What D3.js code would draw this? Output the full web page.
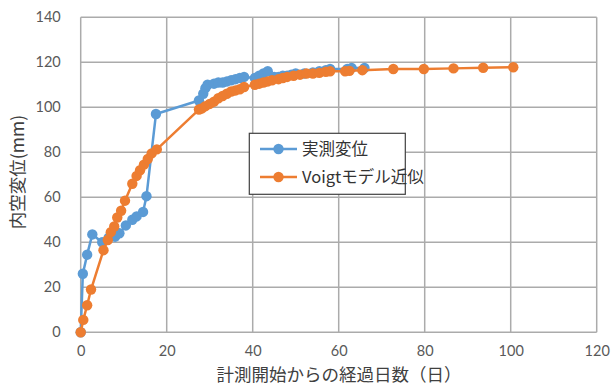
<!DOCTYPE html>
<html><head><meta charset="utf-8">
<script src="https://cdn.jsdelivr.net/npm/d3@7"></script>
<style>body{margin:0;background:#fff}svg{display:block}</style>
</head><body>
<svg id="c" width="611" height="387"></svg>
<script>
const measuredDays = [0,0.5,1.5,2.7,5,6.5,8,9,10.5,12,13,14.5,15.3,17.5,27.5,28.5,29,29.5,31,32,33,34,35,36,37,38,40.5,41.5,42.5,43.5,45,46,47,48,49,50,52,54,55.5,57,58,62,63,66];
const measuredVals = [0,26,34.5,43.5,40,42,42.5,44,47.5,50,51.5,53.5,60.5,97,103,106,108.5,110,110.5,111,111,111.5,112,112.5,113,113.5,113,114,115,116,113.5,113.5,114,114,114.5,115,115,115.5,116,116.5,117,117,117.5,117.5];
const modelDays = [0,0.6,1.5,2.4,5.3,6.3,7,7.8,8.5,9.4,10.3,12,13,13.8,14.7,15.6,16.5,17.7,27.5,28.2,29,30,31,32,33,34,35,36,37,38,40.5,41.5,42.5,43.5,44.5,46,47,48,49.5,51,52.5,54,55.5,57,58,61.5,62.5,65.5,72.7,79.8,86.7,93.6,100.6];
const modelVals = [0,5.5,12,19,36.5,41,44.5,47,51,54,58.5,66,69.5,72,74.5,77,79.5,81.3,99,99.5,100.5,101.5,102.5,104,105,106,107,107.5,108,109,110,110.5,111,111.5,112,112.5,113,113.5,114,114.5,115,115,115.3,115.8,116,116,116.2,116.5,117,117,117.3,117.6,117.8];
const xTicks = [0,20,40,60,80,100,120];
const yTicks = [0,20,40,60,80,100,120,140];
const seriesNames = ["実測変位","Voigtモデル近似"];
const colors = ["#5B9BD5","#ED7D31"];

const svg = d3.select("#c");
const x = d3.scaleLinear().domain([0,120]).range([80.7,596.7]);
const y = d3.scaleLinear().domain([0,140]).range([332.3,17.3]);
const g = svg.append("g");
const tickFont = "Lato, 'Liberation Sans', sans-serif";

// grid
g.append("g").selectAll("line").data(yTicks).join("line")
  .attr("x1",x(0)).attr("x2",x(120)).attr("y1",d=>y(d)).attr("y2",d=>y(d))
  .attr("stroke","#ababab").attr("stroke-width",1.5);
g.append("g").selectAll("line").data(xTicks).join("line")
  .attr("y1",y(0)).attr("y2",y(140)).attr("x1",d=>x(d)).attr("x2",d=>x(d))
  .attr("stroke","#ababab").attr("stroke-width",1.5);

// axes via d3 axis
const xAxis = g.append("g").attr("transform",`translate(0,${y(0)})`)
  .call(d3.axisBottom(x).tickValues(xTicks).tickSize(0).tickPadding(13));
const yAxis = g.append("g").attr("transform",`translate(${x(0)},0)`)
  .call(d3.axisLeft(y).tickValues(yTicks).tickSize(0).tickPadding(20));
[xAxis,yAxis].forEach(a=>{
  a.select(".domain").remove();
  a.selectAll("text").attr("font-family",tickFont).attr("font-size",14.5).attr("fill","#595959");
});

// series
const data = [
  measuredDays.map((d,i)=>[d,measuredVals[i]]),
  modelDays.map((d,i)=>[d,modelVals[i]])
];
const line = d3.line().x(d=>x(d[0])).y(d=>y(d[1]));
data.forEach((s,i)=>{
  const sg = g.append("g");
  sg.append("path").datum(s).attr("d",line).attr("fill","none")
    .attr("stroke",colors[i]).attr("stroke-width",2.5).attr("stroke-linejoin","round");
  sg.selectAll("circle").data(s).join("circle")
    .attr("cx",d=>x(d[0])).attr("cy",d=>y(d[1])).attr("r",5.2).attr("fill",colors[i]);
});

// axis titles
const cjk = "'Noto Sans CJK JP', sans-serif";
svg.append("text").attr("x",339).attr("y",381).attr("text-anchor","middle")
  .attr("font-family",cjk).attr("font-size",17.5).attr("fill","#404040")
  .text("計測開始からの経過日数（日）");
svg.append("text").attr("transform","translate(24,172) rotate(-90)").attr("text-anchor","middle")
  .attr("font-family",cjk).attr("font-size",17.5).attr("fill","#404040")
  .text("内空変位(mm)");

// legend
const lg = svg.append("g");
lg.append("rect").attr("x",249.3).attr("y",133.3).attr("width",156).attr("height",61)
  .attr("fill","#fff").attr("stroke","#404040").attr("stroke-width",1.2);
seriesNames.forEach((n,i)=>{
  const yy = 149 + i*28;
  lg.append("line").attr("x1",260).attr("x2",297).attr("y1",yy).attr("y2",yy)
    .attr("stroke",colors[i]).attr("stroke-width",2.5);
  lg.append("circle").attr("cx",278.5).attr("cy",yy).attr("r",5.2).attr("fill",colors[i]);
  lg.append("text").attr("x",302).attr("y",yy).attr("dy","0.35em")
    .attr("font-family",cjk).attr("font-size",16.5).attr("fill","#333")
    .text(n);
});
</script>
</body></html>
